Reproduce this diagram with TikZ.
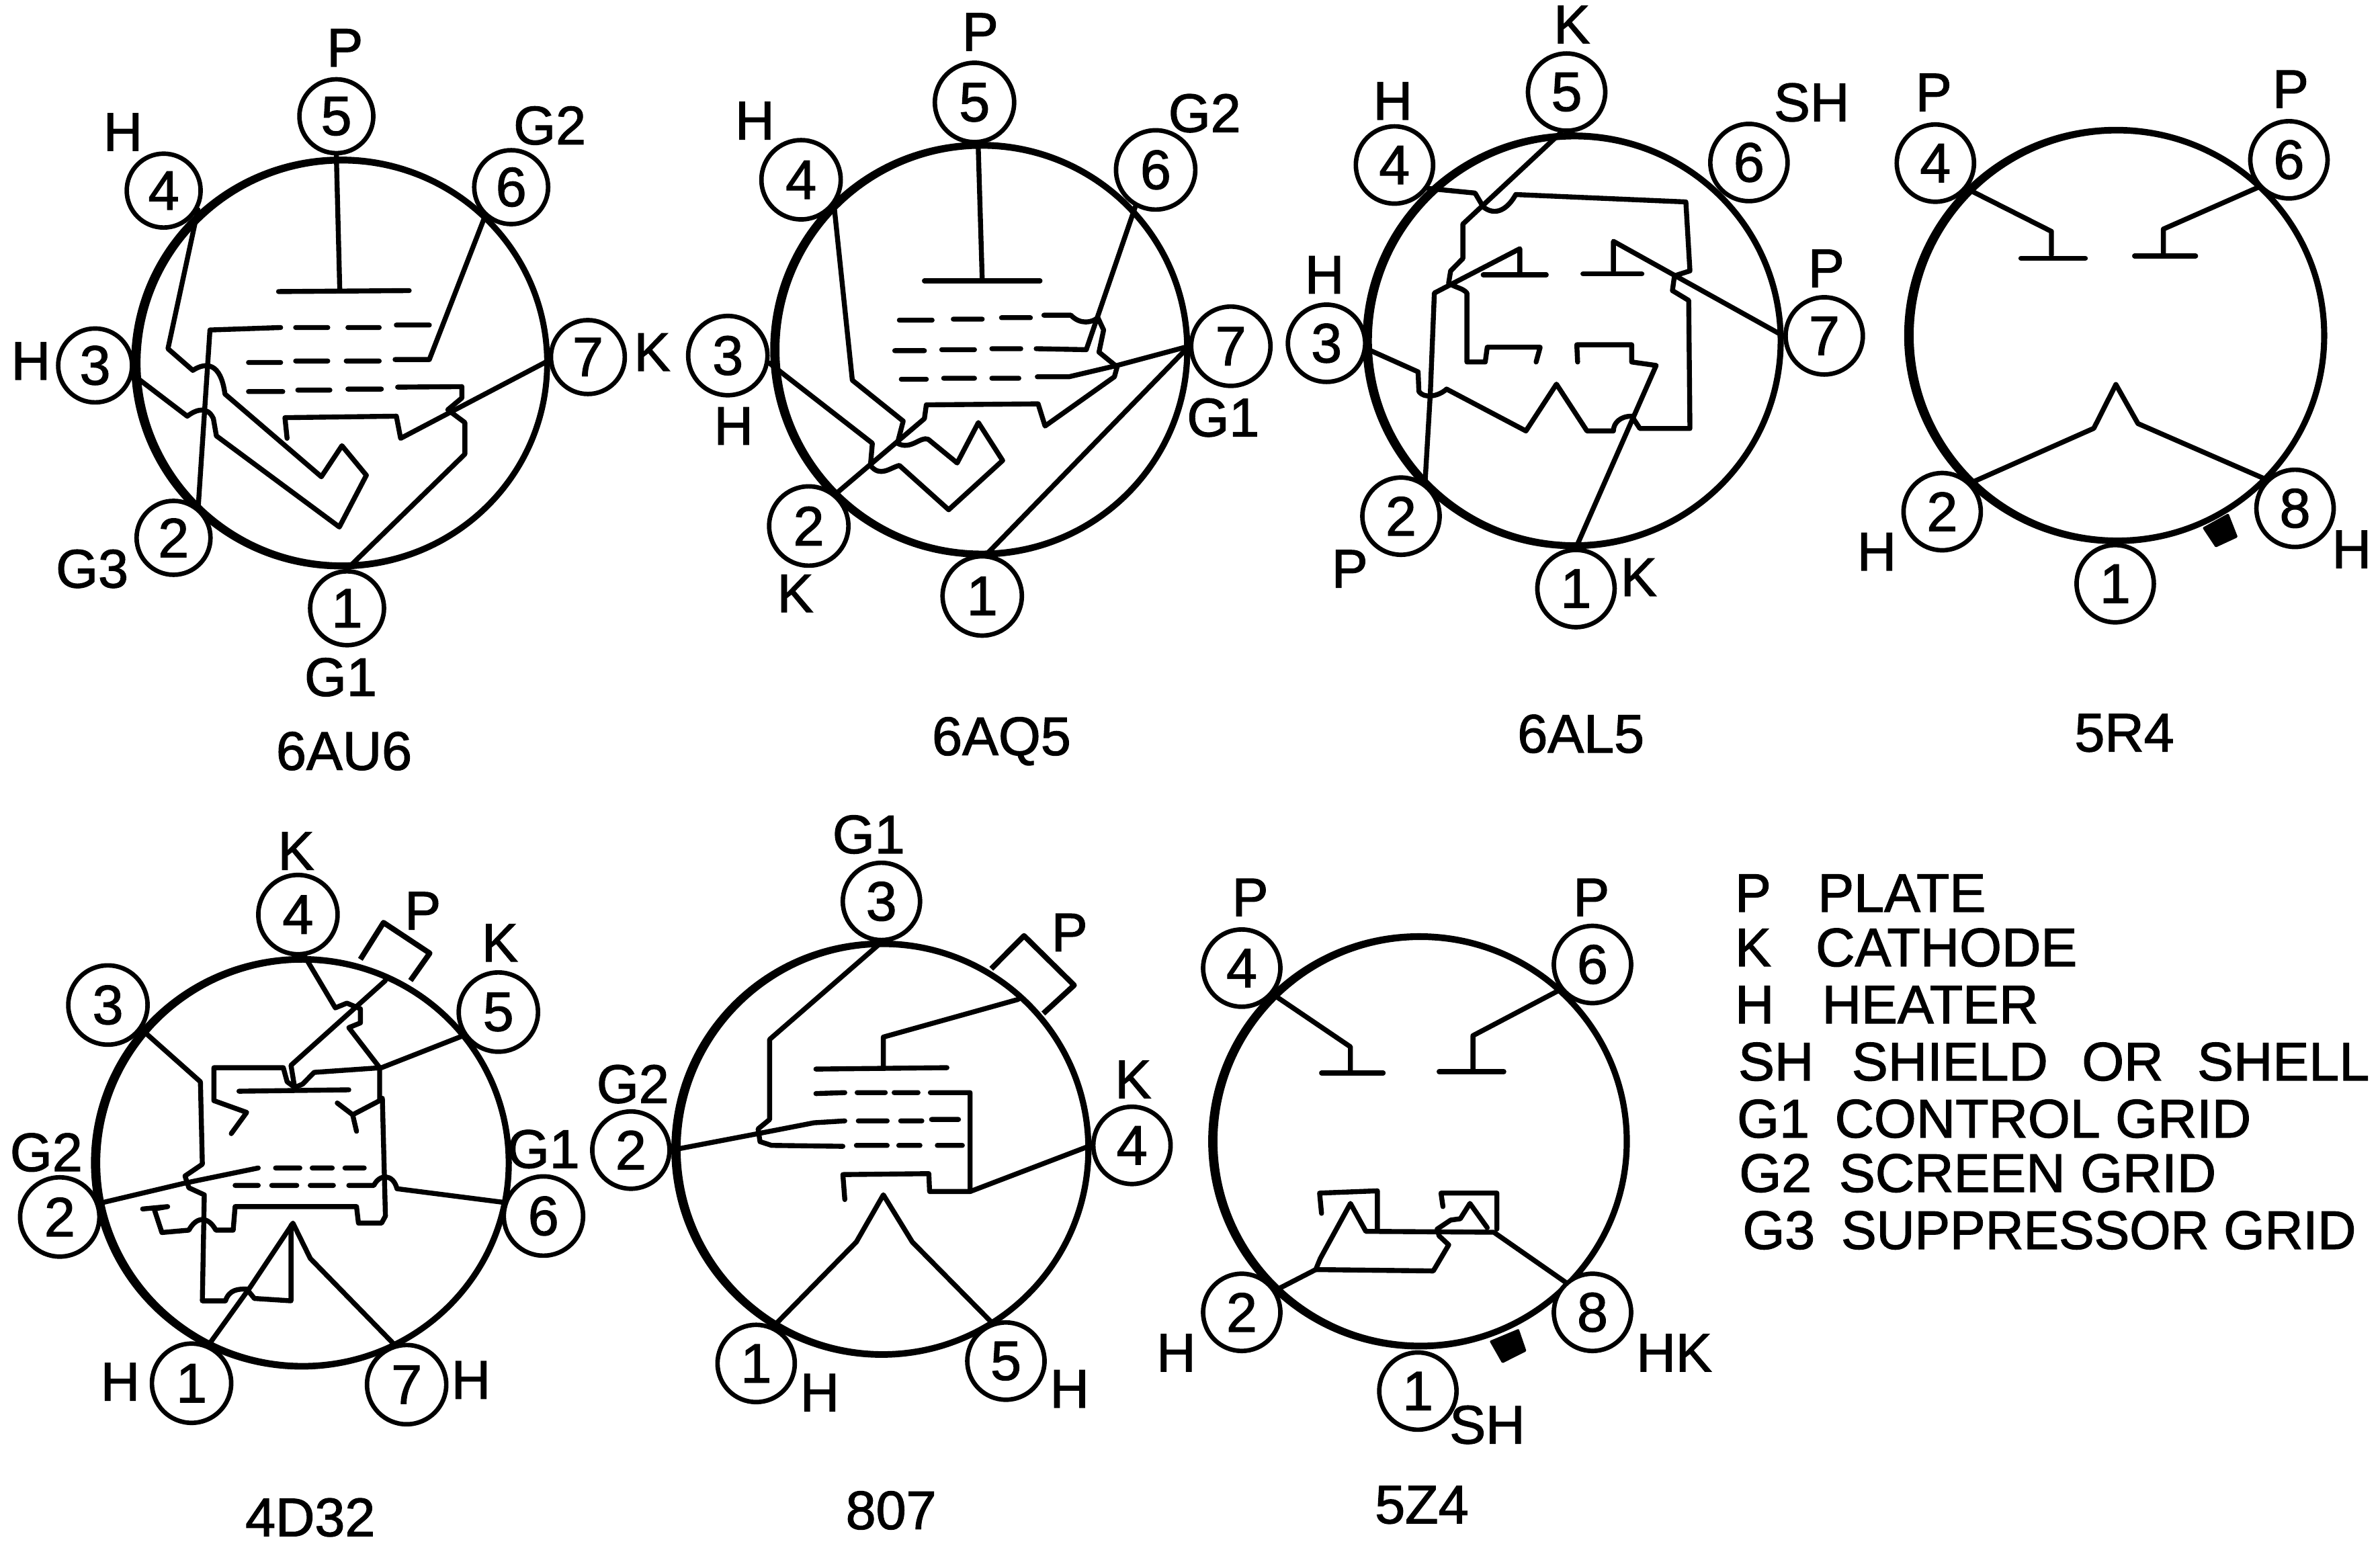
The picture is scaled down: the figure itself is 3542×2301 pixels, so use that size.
\documentclass[tikz,border=0pt]{standalone}
\usepackage{fontspec}
\setmainfont[FakeBold=1.5]{Liberation Sans}
\usetikzlibrary{backgrounds}
\pgfdeclarelayer{bg}
\pgfsetlayers{bg,main}
\tikzset{
  wire/.style={line width=4.2pt,line join=round,line cap=round},
  pin/.style={circle,draw,fill=white,line width=3.8pt,inner sep=0pt,minimum size=2.3cm,
    font=\fontsize{47pt}{50pt}\selectfont},
  lab/.style={inner sep=0pt,font=\fontsize{46pt}{50pt}\selectfont},
  leg/.style={inner sep=0pt,anchor=west,font=\fontsize{46pt}{50pt}\selectfont},
  tab/.style={line width=4.6pt,line join=round},
  keyway/.style={fill=black,draw=black,line width=2pt,line join=round}
}
% envelope: ring a little heavier on its left side, on the layer under the pins
% #1 cx, #2 cy, #3 rx, #4 ry, #5 half thickness x, #6 half thickness y, #7 offset x
\newcommand{\tubering}[7]{%
  \begin{pgfonlayer}{bg}
  \fill[black,even odd rule] ({#1-#7},#2) ellipse [x radius={#3+#5},y radius={#4+#6}]
    ({#1+#7},#2) ellipse [x radius={#3-#5},y radius={#4-#6}];
  \end{pgfonlayer}}
\begin{document}
\begin{tikzpicture}[x=0.02cm,y=-0.02cm]
\begin{pgfonlayer}{bg}
\fill[white] (0,0) rectangle (3542,2301);
\end{pgfonlayer}
\useasboundingbox (0,0) rectangle (3542,2301);

% ---------- 6AU6 ----------
\begin{scope}[shift={(0,0)},x=.01276cm,y=-.01467cm]
\tubering{797}{737}{480}{412}{9}{7}{2}
\tikzset{pin/.append style={minimum size=2.2cm}}
\node[pin] (a5) at (785,236) {5};
\node[pin] (a4) at (382,387) {4};
\node[pin] (a6) at (1193,380) {6};
\node[pin] (a3) at (222,742) {3};
\node[pin] (a7) at (1372,725) {7};
\node[pin] (a2) at (405,1092) {2};
\node[pin] (a1) at (810,1235) {1};
\node[lab] (aP) at (805,97) {P};
\node[lab] (aH4) at (287,268) {H};
\node[lab] (aG2) at (1283,255) {G2};
\node[lab] (aH3) at (72,733) {H};
\node[lab] (aK) at (1522,715) {K};
\node[lab] (aG3) at (215,1155) {G3};
\node[lab] (aG1) at (795,1375) {G1};
\node[lab] (aT) at (803,1525) {6AU6};
\draw[wire] (a5.south) -- (793,590);
\draw[wire] (650,592) -- (955,590);
\draw[wire] (a2.51) -- (490,670) -- (655,665) (690,665) -- (765,665) (812,665) -- (885,665) (925,660) -- (1002,660);
\draw[wire] (580,736) -- (655,736) (690,733) -- (765,733) (808,733) -- (885,733) (922,730) -- (1002,730) -- (a6.-132);
\draw[wire] (580,795) -- (660,795) (695,792) -- (770,792) (812,790) -- (890,790) (928,786) -- (1078,785) -- (1078,808) -- (1045,832) -- (1085,858) -- (1085,922) -- (a1.north);
\draw[wire] (a7.185) -- (935,890) -- (925,845) -- (665,848) -- (670,890);
\draw[wire] (a4.-29) -- (392,708) -- (450,752) .. controls (480,735) and (515,735) .. (525,800) -- (750,968) -- (798,905) -- (855,965) -- (792,1070) -- (505,885) -- (498,850) .. controls (485,825) and (460,830) .. (437,845) -- (a3.-14);
\end{scope}

% ---------- 6AQ5 ----------
\begin{scope}[shift={(1000,0)},x=.01148cm,y=-.01467cm]
\tubering{802}{710}{535}{415}{10}{7}{2}
\tikzset{pin/.append style={minimum size=2.36cm}}
\node[pin] (b5) at (785,208) {5};
\node[pin] (b4) at (335,365) {4};
\node[pin] (b6) at (1255,345) {6};
\node[pin] (b3) at (145,722) {3};
\node[pin] (b7) at (1450,703) {7};
\node[pin] (b2) at (355,1068) {2};
\node[pin] (b1) at (805,1210) {1};
\node[lab] (bP) at (800,65) {P};
\node[lab] (bH4) at (215,245) {H};
\node[lab] (bG2) at (1382,230) {G2};
\node[lab] (bH3) at (160,865) {H};
\node[lab] (bK) at (320,1205) {K};
\node[lab] (bG1) at (1430,848) {G1};
\node[lab] (bT) at (855,1505) {6AQ5};
\draw[wire] (b5.-85) -- (805,568);
\draw[wire] (655,570) -- (955,570);
\draw[wire] (590,650) -- (675,650) (730,648) -- (805,648) (855,645) -- (930,645) (965,640) -- (1035,640) .. controls (1060,660) and (1090,655) .. (1105,645) -- (1120,670) -- (1108,715) -- (1155,745) -- (1148,765) -- (968,865) -- (950,820) -- (660,822) -- (655,850) -- (b2.50);
\draw[wire] (578,712) -- (655,712) (700,710) -- (785,710) (830,708) -- (905,708) (945,708) -- (1075,710) -- (b6.-119);
\draw[wire] (595,770) -- (660,770) (705,768) -- (785,768) (830,768) -- (900,768) (948,765) -- (1030,765) -- (1155,742) -- (b7.west);
\draw[wire] (b1.84) -- (b7.west);
\draw[wire] (b4.-38) -- (468,772) -- (600,855) -- (585,900) .. controls (620,915) and (645,885) .. (665,892) -- (740,940) -- (795,858) -- (858,935) -- (718,1035) -- (590,945) .. controls (565,950) and (540,970) .. (515,945) -- (520,900) -- (b3.-10);
\end{scope}

% ---------- 6AL5 ----------
\begin{scope}[shift={(1850,0)},x=.01212cm,y=-.01467cm]
\tubering{813}{692}{508}{416}{9.5}{7}{2}
\node[pin] (c5) at (795,187) {5};
\node[pin] (c4) at (372,335) {4};
\node[pin] (c6) at (1243,330) {6};
\node[pin] (c3) at (205,697) {3};
\node[pin] (c7) at (1428,682) {7};
\node[pin] (c2) at (388,1048) {2};
\node[pin] (c1) at (818,1195) {1};
\node[lab] (cK5) at (808,50) {K};
\node[lab] (cH4) at (368,205) {H};
\node[lab] (cSH) at (1397,208) {SH};
\node[lab] (cH3) at (200,558) {H};
\node[lab] (cP7) at (1433,545) {P};
\node[lab] (cP2) at (262,1155) {P};
\node[lab] (cK1) at (972,1172) {K};
\node[lab] (cT) at (830,1490) {6AL5};
\draw[wire] (c5.-98) -- (540,455) -- (540,525) -- (510,550) -- (505,575) .. controls (525,585) and (540,585) .. (550,595) -- (550,735) -- (595,735) -- (600,705) -- (730,705) -- (720,735);
\draw[wire] (c2.54) -- (460,800) -- (470,595) -- (680,505) -- (680,558);
\draw[wire] (590,558) -- (745,558);
\draw[wire] (835,556) -- (980,556);
\draw[wire] (c4.-35) -- (570,392) -- (590,420) .. controls (620,440) and (650,425) .. (670,395) -- (1088,410) -- (1098,550) -- (1060,560) -- (1055,590) -- (1095,610) -- (1098,870) -- (975,870) -- (955,845) .. controls (925,845) and (910,860) .. (910,875) -- (845,875) -- (770,780) -- (695,875) -- (500,790) .. controls (480,805) and (445,810) .. (432,795) -- (430,755) -- (c3.-8);
\draw[wire] (c7.west) -- (910,490) -- (910,550);
\draw[wire] (c1.north) -- (1015,742) -- (955,735) -- (955,700) -- (820,700) -- (822,735);
\end{scope}

% ---------- 5R4 ----------
\begin{scope}[shift={(2750,50)},x=.01010cm,y=-.01403cm]
\tubering{792}{641}{612}{436}{11.5}{7}{2.5}
\node[pin] (g4) at (258,275) {4};
\node[pin] (g6) at (1300,268) {6};
\node[pin] (g2) at (278,1015) {2};
\node[pin] (g8) at (1318,1008) {8};
\node[pin] (g1) at (788,1168) {1};
\node[lab] (gP4) at (253,125) {P};
\node[lab] (gP6) at (1305,118) {P};
\node[lab] (gH2) at (85,1100) {H};
\node[lab] (gH8) at (1485,1095) {H};
\node[lab] (gT) at (815,1485) {5R4};
\draw[wire] (g4.-39) -- (600,420) -- (600,470);
\draw[wire] (510,477) -- (700,477);
\draw[wire] (g6.-138) -- (930,415) -- (930,470);
\draw[wire] (845,472) -- (1025,472);
\draw[wire] (g2.45) -- (725,838) -- (790,745) -- (855,828) -- (g8.135);
\draw[keyway] (1050,1050) -- (1120,1022) -- (1145,1068) -- (1085,1088) -- cycle;
\end{scope}

% ---------- 4D32 ----------
\begin{scope}[shift={(0,1200)},x=.01148cm,y=-.01403cm]
\tubering{784}{757}{536}{432}{10}{7}{2}
\tikzset{pin/.append style={minimum size=2.36cm}}
\node[pin] (d4) at (773,230) {4};
\node[pin] (d3) at (280,422) {3};
\node[pin] (d5) at (1293,437) {5};
\node[pin] (d2) at (155,872) {2};
\node[pin] (d6) at (1410,870) {6};
\node[pin] (d1) at (497,1225) {1};
\node[pin] (d7) at (1055,1228) {7};
\node[lab] (dK4) at (768,95) {K};
\node[lab] (dP) at (1097,222) {P};
\node[lab] (dK5) at (1297,290) {K};
\node[lab] (dG2) at (120,735) {G2};
\node[lab] (dG1) at (1410,728) {G1};
\node[lab] (dH1) at (312,1222) {H};
\node[lab] (dH7) at (1222,1218) {H};
\node[lab] (dT) at (805,1510) {4D32};
\draw[tab] (935,325) -- (995,247) -- (1115,312) -- (1065,370);
\draw[wire] (1000,370) -- (755,550) -- (765,600);
\draw[wire] (620,605) -- (905,602);
\draw[wire] (d4.-81) -- (870,428) -- (900,418) -- (935,430) -- (935,460) -- (905,470) -- (985,555);
\draw[wire] (d5.-146) -- (990,555) -- (815,565) -- (785,590) -- (765,597) -- (745,585) -- (735,555) -- (555,555) -- (555,625) -- (640,650) -- (600,695);
\draw[wire] (985,555) -- (985,625) -- (915,655) -- (875,630) (915,655) -- (925,690);
\draw[wire] (992,620) -- (1000,870) -- (990,885) -- (930,885) -- (925,850) -- (610,850) -- (605,900) -- (560,900) .. controls (540,870) and (510,870) .. (490,900) -- (420,905) -- (400,855) -- (435,850) -- (370,855);
\draw[wire] (d3.-36) -- (520,585) -- (525,760) -- (480,785) -- (490,810) -- (530,825) -- (525,1050) -- (585,1050) .. controls (595,1025) and (620,1025) .. (640,1025) -- (660,1045) -- (755,1050) -- (755,890);
\draw[wire] (d1.66) -- (650,1020) -- (760,885) -- (805,960) -- (d7.107);
\draw[wire] (d2.19) -- (480,800) -- (670,768) (715,768) -- (778,768) (810,768) -- (862,768) (895,768) -- (945,768);
\draw[wire] (610,805) -- (670,805) (705,805) -- (770,805) (805,805) -- (865,805) (905,805) -- (970,805) .. controls (985,780) and (1020,780) .. (1030,812) -- (d6.161);
\end{scope}

% ---------- 807 ----------
\begin{scope}[shift={(850,1200)},x=.01148cm,y=-.01403cm]
\tubering{807}{728}{535}{436}{10}{7}{2}
\node[pin] (e3) at (805,202) {3};
\node[pin] (e2) at (155,730) {2};
\node[pin] (e4) at (1455,720) {4};
\node[pin] (e1) at (480,1183) {1};
\node[pin] (e5) at (1128,1178) {5};
\node[lab] (eG1) at (772,60) {G1};
\node[lab] (eP) at (1293,268) {P};
\node[lab] (eG2) at (160,590) {G2};
\node[lab] (eK) at (1458,580) {K};
\node[lab] (eH1) at (645,1245) {H};
\node[lab] (eH5) at (1293,1237) {H};
\node[lab] (eT) at (830,1495) {807};
\draw[tab] (1090,345) -- (1175,275) -- (1305,380) -- (1225,440);
\draw[wire] (e3.south) -- (515,495) -- (515,665) -- (485,685) -- (490,712) -- (520,720) -- (705,722) (740,720) -- (820,720) (850,720) -- (905,720) (950,720) -- (1015,720);
\draw[wire] (e2.east) -- (485,695) -- (630,672) -- (710,668) (745,668) -- (820,668) (855,668) -- (910,668) (935,665) -- (1005,665);
\draw[wire] (635,610) -- (710,608) (742,608) -- (815,608) (838,608) -- (900,608) (932,608) -- (1035,608) -- (1035,818) -- (930,818) -- (928,780) -- (705,782) -- (710,835);
\draw[wire] (1035,818) -- (e4.west);
\draw[wire] (1160,410) -- (810,490) -- (810,552);
\draw[wire] (635,558) -- (975,555);
\draw[wire] (e1.65) -- (740,925) -- (810,825) -- (885,925) -- (e5.110);
\end{scope}

% ---------- 5Z4 ----------
\begin{scope}[shift={(1700,1250)},x=.01148cm,y=-.01339cm]
\tubering{720}{670}{537}{455}{10}{7.5}{2}
\node[pin] (f4) at (258,285) {4};
\node[pin] (f6) at (1168,277) {6};
\node[pin] (f2) at (258,1050) {2};
\node[pin] (f8) at (1168,1050) {8};
\node[pin] (f1) at (715,1225) {1};
\node[lab] (fP4) at (280,128) {P};
\node[lab] (fP6) at (1165,128) {P};
\node[lab] (fH) at (88,1140) {H};
\node[lab] (fHK) at (1380,1140) {HK};
\node[lab] (fSH) at (895,1300) {SH};
\node[lab] (fT) at (725,1478) {5Z4};
\draw[wire] (f4.-40) -- (540,460) -- (540,518);
\draw[wire] (465,518) -- (625,518);
\draw[wire] (f6.-142) -- (858,435) -- (858,515);
\draw[wire] (770,515) -- (938,515);
\draw[wire] (f2.33) -- (450,955) -- (462,930) -- (540,808) -- (580,870) -- (912,872) -- (f8.132);
\draw[wire] (450,955) -- (755,958) -- (795,900) -- (770,880) -- (765,865) -- (800,845) -- (825,842) -- (850,808) -- (895,862);
\draw[wire] (610,868) -- (610,780) -- (460,785) -- (465,830);
\draw[wire] (920,865) -- (920,785) -- (775,785) -- (780,815);
\draw[keyway] (905,1115) -- (975,1090) -- (993,1135) -- (935,1160) -- cycle;
\end{scope}

% ---------- legend ----------
\begin{scope}[shift={(2550,1270)},x=.01265cm,y=-.00791cm]
\node[leg] (k1) at (50,150) {P};
\node[leg] (k1t) at (245,150) {PLATE};
\node[leg] (k2) at (50,355) {K};
\node[leg] (k2t) at (240,355) {CATHODE};
\node[leg] (k3) at (50,570) {H};
\node[leg] (k3t) at (255,570) {HEATER};
\node[leg] (k4) at (58,785) {SH};
\node[leg] (k4t) at (325,785) {SHIELD\hspace{16pt} OR\hspace{16pt} SHELL};
\node[leg] (k5) at (55,1000) {G1};
\node[leg] (k5t) at (285,1000) {CONTROL GRID};
\node[leg] (k6) at (60,1205) {G2};
\node[leg] (k6t) at (295,1205) {SCREEN GRID};
\node[leg] (k7) at (68,1420) {G3};
\node[leg] (k7t) at (300,1420) {\addfontfeature{FakeStretch=0.975}SUPPRESSOR GRID};
\end{scope}
\end{tikzpicture}
\end{document}
